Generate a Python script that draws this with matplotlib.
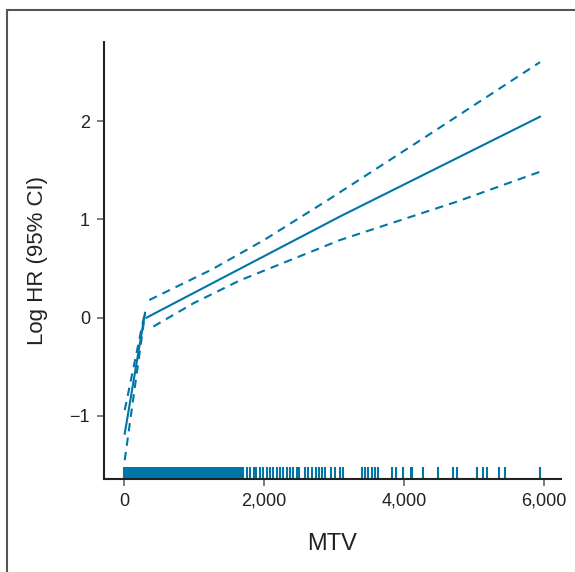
import matplotlib
matplotlib.use("Agg")
import matplotlib.pyplot as plt
from matplotlib.patches import Rectangle

plt.rcParams['font.family'] = ['Liberation Sans', 'DejaVu Sans']

# ---- data ----
seg1_x = [10, 300]
seg1_main = [-1.18, 0.05]
seg1_upper = [-0.94, 0.06]
seg1_lower = [-1.45, 0.04]

seg2_main_x = [320, 3086, 5943]
seg2_main = [0.0, 1.03, 2.045]
seg2_upper_x = [361, 1253, 2000, 2919, 4276, 5943]
seg2_upper = [0.18, 0.49, 0.79, 1.20, 1.825, 2.60]
seg2_lower_x = [419, 1000, 1657, 3086, 4753, 5943]
seg2_lower = [-0.09, 0.15, 0.38, 0.79, 1.18, 1.485]

rug_dense = [0, 12, 25, 40, 55, 68, 80, 95, 110, 122, 138, 150, 165, 180, 192,
             205, 220, 235, 248, 260, 275, 290, 305, 318, 330, 345, 360, 372,
             388, 400, 415, 430, 445, 458, 470, 485, 500, 515, 528, 540, 556,
             570, 585, 598, 610, 625, 640, 655, 668, 680, 695, 710, 725, 738,
             750, 765, 780, 795, 808, 820, 835, 850, 865, 878, 890, 905, 920,
             935, 948, 960, 975, 990, 1005, 1018, 1030, 1045, 1060, 1075, 1088,
             1100, 1115, 1130, 1145, 1158, 1170, 1185, 1200, 1215, 1228, 1240,
             1255, 1270, 1285, 1298, 1310, 1325, 1340, 1355, 1370, 1385, 1400,
             1418, 1435, 1450, 1470, 1490, 1510, 1530, 1550, 1570, 1590, 1610,
             1630, 1650, 1672, 1705]
rug_sparse = [1760, 1800, 1850, 1890, 1940, 1990, 2040,
              2086, 2133, 2181, 2229, 2276, 2324, 2371, 2419, 2467, 2500, 2586,
              2633, 2690, 2739, 2786, 2833, 2871, 2957, 3014, 3086, 3133, 3396,
              3443, 3490, 3539, 3586, 3633, 3824, 3886, 3981, 4100, 4119, 4276,
              4481, 4705, 4753, 5039, 5124, 5190, 5361, 5447, 5943]

x_ticks = [0, 2000, 4000, 6000]
x_ticklabels = ["0", "2,000", "4,000", "6,000"]
y_ticks = [-1, 0, 1, 2]
y_ticklabels = ["\u22121", "0", "1", "2"]

x_label = "MTV"
y_label = "Log HR (95% CI)"

# ---- figure ----
color = '#0076A8'
W, H = 575, 572
fig = plt.figure(figsize=(W / 100, H / 100), dpi=100)
ax = fig.add_axes([104 / W, 1 - 479 / H, (561 - 104) / W, (479 - 42) / H])

lw = 1.5
dash = (0, (4, 3))
ax.plot(seg1_x, seg1_main, color=color, lw=lw)
ax.plot(seg1_x, seg1_upper, color=color, lw=lw, linestyle=dash)
ax.plot(seg1_x, seg1_lower, color=color, lw=lw, linestyle=dash)
ax.plot(seg2_main_x, seg2_main, color=color, lw=lw)
ax.plot(seg2_upper_x, seg2_upper, color=color, lw=lw, linestyle=dash)
ax.plot(seg2_lower_x, seg2_lower, color=color, lw=lw, linestyle=dash)

rug = rug_dense + rug_sparse
ax.vlines(rug, 0, 12 / 437, transform=ax.get_xaxis_transform(),
          color=color, lw=1.5)

ax.set_xlim(-286, 6243)
ax.set_ylim(-1.641, 2.805)

ax.set_xticks(x_ticks)
ax.set_xticklabels(x_ticklabels)
ax.set_yticks(y_ticks)
ax.set_yticklabels(y_ticklabels)

for s in ['top', 'right']:
    ax.spines[s].set_visible(False)
for s in ['left', 'bottom']:
    ax.spines[s].set_color('#222222')
    ax.spines[s].set_linewidth(1.5)

ax.tick_params(axis='both', which='major', labelsize=13, length=5,
               width=1.2, color='#666666', labelcolor='#222222', pad=5)

ax.set_xlabel(x_label, fontsize=17, color='#222222')
ax.set_ylabel(y_label, fontsize=16, color='#222222')
ax.xaxis.label.set_va('center')
ax.yaxis.label.set_va('center')
ax.xaxis.set_label_coords(0.5, (479 - 544) / 437)
ax.yaxis.set_label_coords((38 - 104) / 457, 0.5)

# outer frame (left and top edges visible)
fig.patches.append(Rectangle((7 / W, -0.1), 1.2, (1 - 10 / H) + 0.1,
                             transform=fig.transFigure, fill=False,
                             edgecolor='#555555', lw=1.5, clip_on=False))

fig.savefig("out.png", dpi=100)
